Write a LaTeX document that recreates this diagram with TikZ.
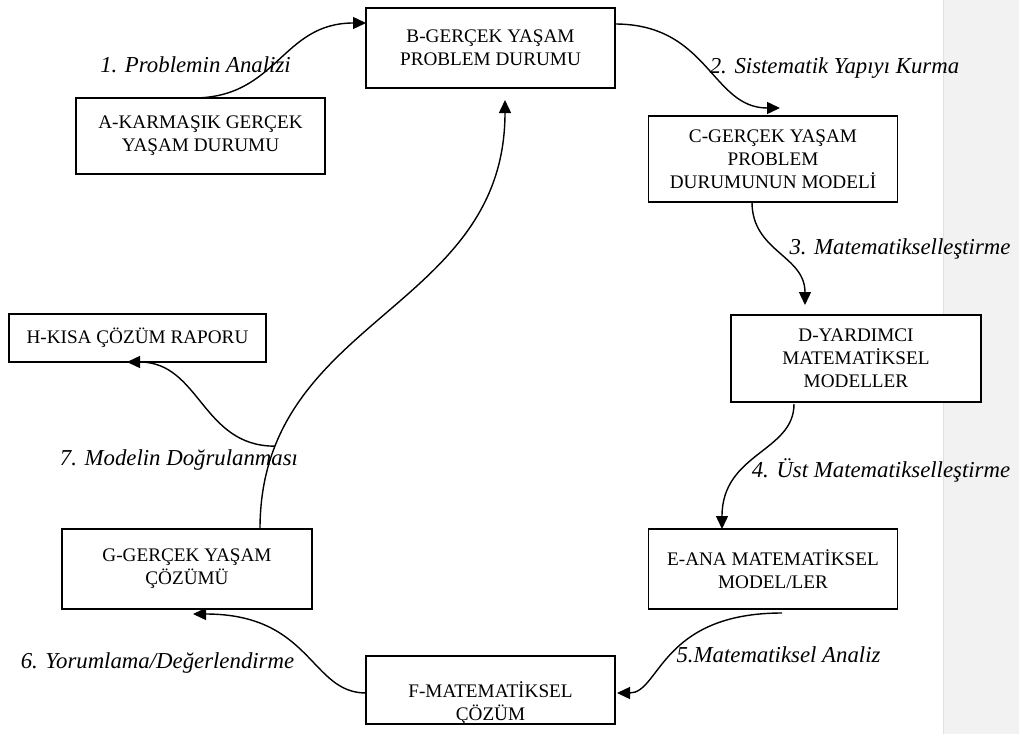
\documentclass[tikz,border=0pt]{standalone}
\usepackage{fontspec}
\setmainfont{Liberation Serif}
\usetikzlibrary{arrows.meta}

\begin{document}
\begin{tikzpicture}[
    x=0.5pt, y=0.5pt,
    boxtext/.style={align=center, font=\fontsize{9.6}{11.5}\selectfont},
    box/.style={boxtext, draw, fill=white, line width=0.7pt,
                minimum width=124.5pt, inner sep=0pt, outer sep=0pt},
    arw/.style={-{Triangle[length=6.5pt, width=6pt]}, line width=0.7pt},
    lbl/.style={anchor=base, font=\fontsize{11.4}{13}\selectfont\itshape},
]
% --- Page and side strip ---
\useasboundingbox (0,0) rectangle (1019,-734);
\fill[black!5] (943,0) rectangle (1019,-734);
\draw[black!12] (943,0) -- (943,-734);

% --- Nodes ---
\node[box, minimum height=38pt] (complex) at (200.5,-136)
    {A-KARMAŞIK GERÇEK\\YAŞAM DURUMU};
\node[box, minimum height=40pt] (realprob) at (490.5,-48)
    {B-GERÇEK YAŞAM\\PROBLEM DURUMU};
\node[box, minimum height=43pt] (model) at (773,-159)
    {C-GERÇEK YAŞAM\\PROBLEM\\DURUMUNUN MODELİ};
\node[box, minimum height=43.5pt, minimum width=125pt] (auxmod) at (856,-358.5)
    {D-YARDIMCI\\MATEMATİKSEL\\MODELLER};
\node[box, minimum height=40pt] (mainmod) at (773,-569)
    {E-ANA MATEMATİKSEL\\MODEL/LER};
\node[box, minimum height=34pt,
      label={[boxtext, yshift=-6.5pt]center:{F-MATEMATİKSEL\\ÇÖZÜM}}] (mathsol) at (490.5,-690) {};
\node[box, minimum height=40pt, minimum width=125pt] (realsol) at (187,-569)
    {G-GERÇEK YAŞAM\\ÇÖZÜMÜ};
\node[box, minimum height=24pt, minimum width=128.5pt] (report) at (137.5,-338)
    {H-KISA ÇÖZÜM RAPORU};

% --- Arrows ---
\draw[arw] ([xshift=-3.75pt]complex.north) to[out=0, in=180, looseness=1.15]
    ([yshift=12.5pt]realprob.west);
\draw[arw] ([yshift=12pt]realprob.east)
    to[out=0, in=180, out looseness=1.3, in looseness=0.95]
    ([xshift=3.5pt, yshift=4pt]model.north);
\draw[arw] ([xshift=-10.5pt]model.south) to[out=-90, in=90, looseness=1.1]
    ([xshift=-25.5pt, yshift=5pt]auxmod.north);
\draw[arw] ([xshift=-31pt, yshift=-1pt]auxmod.south)
    to[out=-90, in=90, out looseness=0.85, in looseness=1.35]
    ([xshift=-25.5pt]mainmod.north);
\draw[arw] ([xshift=4.5pt, yshift=-2pt]mainmod.south)
    to[out=180, in=0, out looseness=1.7, in looseness=0.6]
    ([xshift=1pt, yshift=-1.5pt]mathsol.east);
\draw[arw] ([yshift=-1.5pt]mathsol.west)
    to[out=180, in=0, out looseness=0.75, in looseness=1.6]
    ([xshift=3pt, yshift=-2.5pt]realsol.south);
\draw[arw] ([xshift=36.5pt]realsol.north) to[out=90, in=-90, looseness=1.1]
    coordinate[pos=0.15] (verify) ([xshift=7.25pt, yshift=-6pt]realprob.south);
\draw[arw] (verify) to[out=180, in=0, looseness=1.1]
    ([xshift=-5.25pt]report.south);

% --- Step labels ---
\node[lbl] (analysis) at (195.5,-72) {1. Problemin Analizi};
\node[lbl] (structure) at (834.5,-73) {2. Sistematik Yapıyı Kurma};
\node[lbl] (mathz) at (900,-254) {3. Matematikselleştirme};
\node[lbl] (metamathz) at (881,-477) {4. Üst Matematikselleştirme};
\node[lbl] (mathanalysis) at (778.5,-662) {5.Matematiksel Analiz};
\node[lbl] (interpret) at (157.5,-668) {6. Yorumlama/Değerlendirme};
\node[lbl] (validate) at (179,-465) {7. Modelin Doğrulanması};
\end{tikzpicture}
\end{document}
